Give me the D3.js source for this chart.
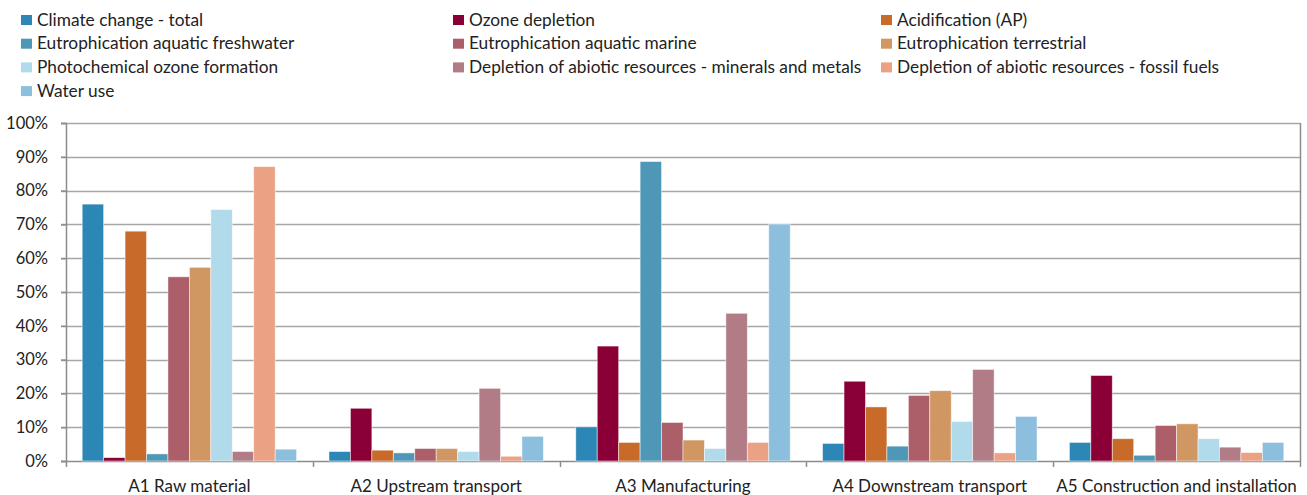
<!DOCTYPE html>
<meta charset="utf-8">
<script src="https://d3js.org/d3.v7.min.js"></script>
<style>
	body{
		margin:0;
		background:#fff;
		font-family: Lato, 'Open Sans', sans-serif;
	}
	text{
		fill:#222;
	}
</style>
<div id="chart"></div>
<script>

	// stages on the x axis
	var stages = ["A1 Raw material","A2 Upstream transport","A3 Manufacturing","A4 Downstream transport","A5 Construction and installation"]

	// impact categories (legend order = bar order)
	var impacts = ["Climate change - total","Ozone depletion","Acidification (AP)",
		"Eutrophication aquatic freshwater","Eutrophication aquatic marine","Eutrophication terrestrial",
		"Photochemical ozone formation","Depletion of abiotic resources - minerals and metals","Depletion of abiotic resources - fossil fuels",
		"Water use"]

	var colors = ["#2D87B6","#8A0036","#C86B2A","#4F97B6","#AD5F69","#D09763","#B1DAEA","#B17C86","#EAA184","#8BBFDD"]

	// share per stage (%), one array per impact category
	var climate   = [76.0, 2.8, 10.1, 5.2, 5.5]
	var ozone     = [1.0, 15.6, 34.0, 23.6, 25.3]
	var acid      = [68.0, 3.2, 5.5, 16.0, 6.6]
	var freshw    = [2.1, 2.4, 88.6, 4.4, 1.7]
	var marine    = [54.5, 3.7, 11.4, 19.4, 10.5]
	var terr      = [57.3, 3.7, 6.2, 20.8, 11.0]
	var photo     = [74.4, 2.8, 3.7, 11.7, 6.6]
	var minerals  = [2.8, 21.5, 43.7, 27.1, 4.1]
	var fossil    = [87.1, 1.4, 5.5, 2.4, 2.5]
	var water     = [3.5, 7.3, 70.1, 13.2, 5.5]

	var yTicks = [0,10,20,30,40,50,60,70,80,90,100]

	var series = [climate,ozone,acid,freshw,marine,terr,photo,minerals,fossil,water]

	var w = 1307
	var h = 495
	var margin = {left:66, right:7, top:123, bottom:34}

	var svg = d3.select("#chart").append("svg").attr("width",w).attr("height",h)

	var x0 = d3.scaleBand().domain(stages).range([margin.left, w-margin.right]).padding(0)
	var x1 = d3.scaleBand().domain(d3.range(impacts.length)).range([0, x0.bandwidth()]).paddingInner(0).paddingOuter(0.755)
	var y = d3.scaleLinear().domain([0,100]).range([h-margin.bottom, margin.top])

	// gridlines
	svg.append("g")
		.selectAll("line")
		.data(yTicks)
		.join("line")
		.attr("x1",margin.left-5)
		.attr("x2",w-margin.right)
		.attr("y1",d=>Math.round(y(d))+0.5)
		.attr("y2",d=>Math.round(y(d))+0.5)
		.attr("stroke",function(d){ return d==0 ? "#8c8c8c" : "#a6a6a6"})
		.attr("stroke-width",1.5)

	// right border of plot area
	svg.append("line")
		.attr("x1",w-margin.right+0.5).attr("x2",w-margin.right+0.5)
		.attr("y1",y(100)).attr("y2",y(0))
		.attr("stroke","#8c8c8c").attr("stroke-width",1.5)

	// bars
	var groups = svg.append("g")
		.selectAll("g")
		.data(stages)
		.join("g")
		.attr("transform",d=>"translate("+x0(d)+",0)")

	groups.selectAll("rect")
		.data(function(d,i){
			return series.map(function(s,k){ return {k:k, v:s[i]} })
		})
		.join("rect")
		.attr("x",d=>x1(d.k))
		.attr("width",x1.bandwidth())
		.attr("y",d=>y(d.v))
		.attr("height",d=>y(0)-y(d.v))
		.attr("fill",d=>colors[d.k])
		.attr("stroke","#fff")
		.attr("stroke-opacity",0.6)
		.attr("stroke-width",0.8)

	// y axis
	var yAxis = d3.axisLeft(y).tickValues(yTicks).tickFormat(d=>d+"%").tickSize(5).tickPadding(13)
	var ya = svg.append("g").attr("transform","translate("+margin.left+",0)").call(yAxis)
	ya.select(".domain").attr("stroke","#8c8c8c").attr("stroke-width",1.5)
	ya.selectAll(".tick line").attr("stroke","#8c8c8c").attr("stroke-width",1.5)
	ya.selectAll(".tick text").style("font-size","16.5px").style("font-family","Lato, sans-serif").attr("fill","#222")

	// x axis: category dividers
	var dividers = stages.map(d=>x0(d)).concat([w-margin.right])
	svg.append("g")
		.selectAll("line")
		.data(dividers)
		.join("line")
		.attr("x1",d=>Math.round(d)+0.5).attr("x2",d=>Math.round(d)+0.5)
		.attr("y1",y(0)).attr("y2",y(0)+6)
		.attr("stroke","#8c8c8c").attr("stroke-width",1.5)

	svg.append("g")
		.selectAll("text")
		.data(stages)
		.join("text")
		.attr("x",d=>x0(d)+x0.bandwidth()/2)
		.attr("y",h-margin.bottom+31)
		.attr("text-anchor","middle")
		.style("font-size","17px")
		.text(d=>d)

	// legend, 3 columns
	var colX = [21, 453, 881]
	var legend = svg.append("g")
		.selectAll("g")
		.data(impacts)
		.join("g")
		.attr("transform",function(d,i){
			return "translate("+colX[i%3]+","+(15+Math.floor(i/3)*23.7)+")"
		})
	legend.append("rect").attr("width",11).attr("height",10).attr("fill",(d,i)=>colors[i])
	legend.append("text").attr("x",16).attr("y",10.5).style("font-size","17.3px").text(d=>d)

</script>
